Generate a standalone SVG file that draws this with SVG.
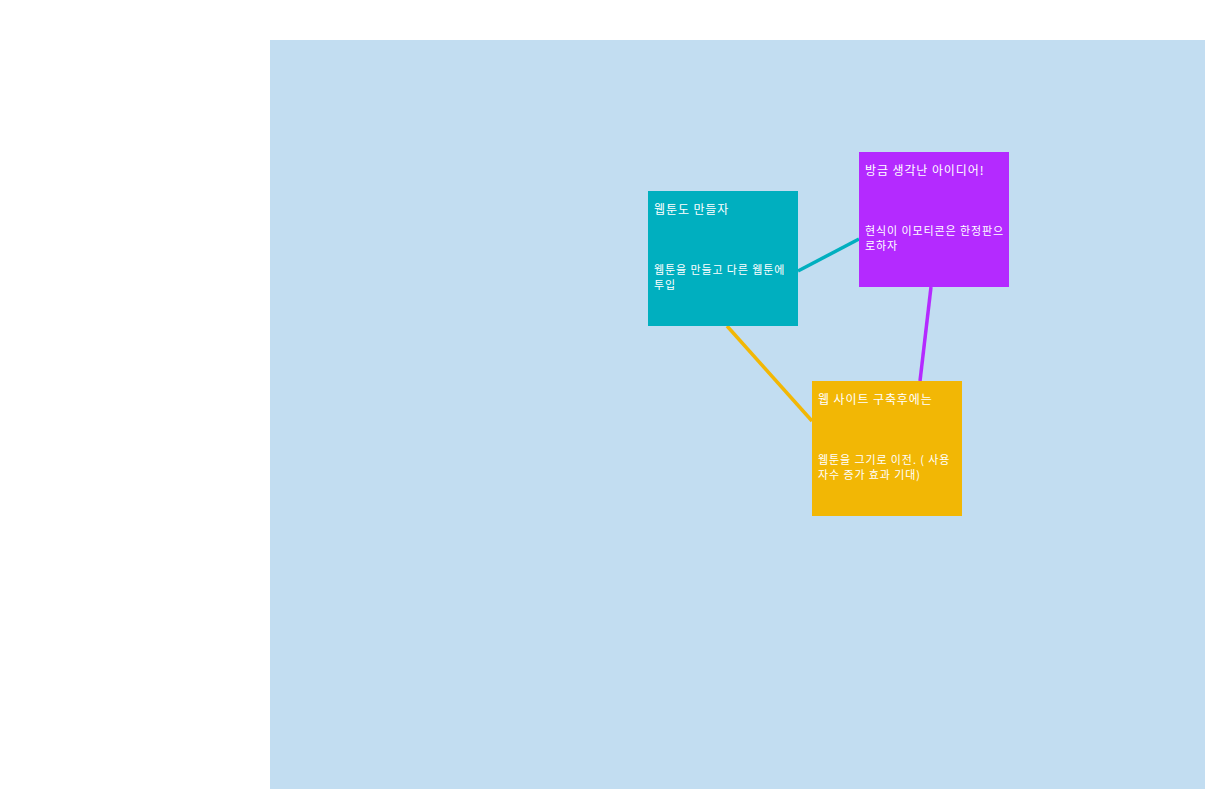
<svg xmlns="http://www.w3.org/2000/svg" width="1205" height="789" viewBox="0 0 1205 789">
<style>
.t{font-family:"Noto Sans CJK KR","Liberation Sans",sans-serif;fill:#ffffff;font-size:12px;letter-spacing:0.9px}
.b{font-family:"Noto Sans CJK KR","Liberation Sans",sans-serif;fill:#ffffff;font-size:11px;letter-spacing:0.9px}
.c{stroke-width:3.5;fill:none}
</style>
<rect x="270" y="40" width="935" height="749" fill="#C2DDF1"/>
<g id="connectors">
<line class="c" x1="798" y1="271" x2="859" y2="239" stroke="#00AFBF"/>
<line class="c" x1="931" y1="287" x2="920" y2="381" stroke="#B42AFF"/>
<line class="c" x1="727" y1="326" x2="812" y2="421" stroke="#F2B705"/>
</g>
<g id="node-webtoon">
<rect x="648" y="191" width="150" height="135" fill="#00AFBF"/>
<text class="t" x="654" y="214">웹툰도 만들자</text>
<text class="b" x="654" y="274">웹툰을 만들고 다른 웹툰에</text>
<text class="b" x="654" y="289">투입</text>
</g>
<g id="node-idea">
<rect x="859" y="152" width="150" height="135" fill="#B42AFF"/>
<text class="t" x="865" y="175">방금 생각난 아이디어!</text>
<text class="b" x="865" y="235">현식이 이모티콘은 한정판으</text>
<text class="b" x="865" y="250">로하자</text>
</g>
<g id="node-site">
<rect x="812" y="381" width="150" height="135" fill="#F2B705"/>
<text class="t" x="818" y="404">웹 사이트 구축후에는</text>
<text class="b" x="818" y="464">웹툰을 그기로 이전. ( 사용</text>
<text class="b" x="818" y="479">자수 증가 효과 기대)</text>
</g>
</svg>
